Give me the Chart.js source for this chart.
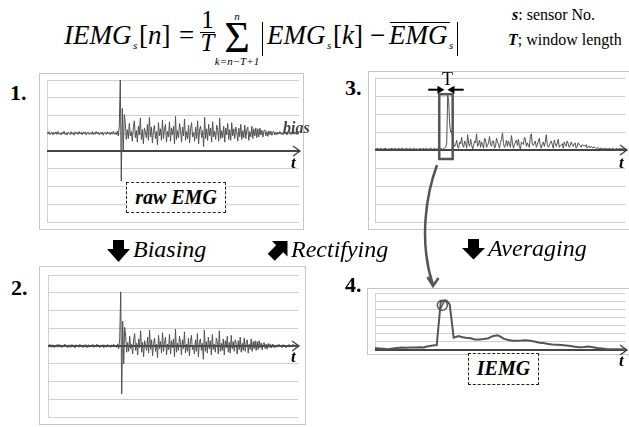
<!DOCTYPE html>
<html><head><meta charset="utf-8">
<script src="https://cdn.jsdelivr.net/npm/chart.js@4.4.1/dist/chart.umd.min.js"></script>
<style>
html,body{margin:0;padding:0;background:#fff}
body{width:629px;height:427px;overflow:hidden;position:relative;font-family:"Liberation Serif","Times New Roman",Tinos,Times,serif;color:#000}
.frame{position:absolute;border:1px solid #c6c6c6;box-sizing:border-box}
.cw{position:absolute}
.txt{position:absolute;line-height:1;white-space:nowrap}
.it{font-style:italic}
.num{font-weight:bold;font-size:22px}
.tl{font-weight:bold;font-style:italic;font-size:17px}
.lbl{position:absolute;border:1.5px dashed #222;background:#fff;font-weight:bold;font-style:italic;font-size:20px;text-align:center;box-sizing:border-box;z-index:3}
.step{font-style:italic;font-size:24px}
.c{text-align:center}
.hl{position:absolute;height:0;border-top:1.3px solid #000}
.vl{position:absolute;width:0;height:34px;border-left:1.5px solid #000}
svg{position:absolute;left:0;top:0;z-index:4}
</style></head><body>

<!-- formula -->
<div class="txt it" style="left:64px;top:22.4px;font-size:27px">IEMG</div>
<div class="txt it" style="left:133px;top:40px;font-size:11px">s</div>
<div class="txt" style="left:139px;top:22.4px;font-size:27px">[<i>n</i>]</div>
<div class="txt" style="left:179px;top:22.4px;font-size:27px">=</div>
<div class="txt c" style="left:197px;top:7.1px;width:21px;font-size:25px">1</div>
<div class="hl" style="left:200px;top:31.5px;width:15px"></div>
<div class="txt c it" style="left:197px;top:30.1px;width:21px;font-size:25px">T</div>
<div class="txt c it" style="left:227px;top:10.8px;width:20px;font-size:11px">n</div>
<div class="txt c" style="left:215px;top:16.2px;width:44px;font-size:44px">Σ</div>
<div class="txt c it" style="left:207px;top:55.8px;width:60px;font-size:11px">k=n−T+1</div>
<div class="vl" style="left:262px;top:22px"></div>
<div class="txt it" style="left:267px;top:22.4px;font-size:27px">EMG</div>
<div class="txt it" style="left:327px;top:40px;font-size:11px">s</div>
<div class="txt" style="left:333px;top:22.4px;font-size:27px">[<i>k</i>]</div>
<div class="txt" style="left:370px;top:22.4px;font-size:27px">−</div>
<div class="txt it" style="left:389px;top:22.4px;font-size:27px">EMG</div>
<div class="hl" style="left:390px;top:22px;width:60px"></div>
<div class="txt it" style="left:449px;top:40px;font-size:11px">s</div>
<div class="vl" style="left:457px;top:22px"></div>

<div class="txt" style="left:512px;top:6.6px;font-size:16px"><b><i>s</i></b>: sensor No.</div>
<div class="txt" style="left:508px;top:31.6px;font-size:16px"><b><i>T</i></b>; window length</div>

<div class="frame" style="left:39px;top:73px;width:265px;height:157px"></div>
<div class="frame" style="left:39px;top:266px;width:267px;height:159px"></div>
<div class="frame" style="left:368px;top:71px;width:270px;height:159px"></div>
<div class="frame" style="left:367px;top:288px;width:270px;height:67px"></div>

<div class="cw" style="left:39px;top:73px"><canvas id="c1" width="265" height="157"></canvas></div>
<div class="cw" style="left:39px;top:266px"><canvas id="c2" width="267" height="159"></canvas></div>
<div class="cw" style="left:368px;top:71px"><canvas id="c3" width="261" height="159"></canvas></div>
<div class="cw" style="left:367px;top:288px"><canvas id="c4" width="262" height="67"></canvas></div>

<div class="txt num" style="left:10px;top:82px">1.</div>
<div class="txt num" style="left:11px;top:277px">2.</div>
<div class="txt num" style="left:345px;top:77px">3.</div>
<div class="txt num" style="left:345px;top:274px">4.</div>

<div class="txt tl" style="left:291px;top:154px">t</div>
<div class="txt tl" style="left:291px;top:348px">t</div>
<div class="txt tl" style="left:619px;top:154px">t</div>
<div class="txt tl" style="left:619px;top:352px">t</div>
<div class="txt" style="left:283px;top:120px;font-size:16px;font-weight:bold;font-style:italic;color:#444;z-index:3">bias</div>
<div class="txt" style="left:442px;top:70px;font-size:18px">T</div>

<div class="lbl" style="left:126px;top:182px;width:100px;height:31px;line-height:28px">raw EMG</div>
<div class="lbl" style="left:468px;top:353px;width:71px;height:32px;line-height:29px">IEMG</div>

<div class="txt step" style="left:133px;top:237px">Biasing</div>
<div class="txt step" style="left:291px;top:237px">Rectifying</div>
<div class="txt step" style="left:488px;top:236px">Averaging</div>

<svg width="629" height="427" viewBox="0 0 629 427">
  <path d="M437,165 C427,192 418,240 433,285" fill="none" stroke="#555" stroke-width="2.5"/>
  <polyline points="427.5,277 433,286 438.5,278" fill="none" stroke="#555" stroke-width="2.5" stroke-linejoin="miter"/>
  <polygon points="113,240 124,240 124,249 130,249 118.5,262 107,249 113,249" fill="#000"/>
  <polygon points="468,239 479,239 479,248 485,248 473.5,259.5 462,248 468,248" fill="#000"/>
  <polygon transform="translate(279,249.5) rotate(-45)" points="-11,-5 1,-5 1,-11 12,0 1,11 1,5 -11,5" fill="#000"/>
</svg>

<script>
// ---------- data ----------
// biased (zero-mean) EMG, one value per sample, in grid units
const emgBiased = [
 // quiet
 0.06,-0.04,0.09,-0.08,0.03,0.07,-0.1,0.05,-0.03,0.08,-0.07,0.1,-0.05,0.02,-0.09,0.06,
 -0.04,0.11,-0.06,0.03,-0.1,0.07,0.02,-0.08,0.09,-0.05,0.04,-0.11,0.08,-0.03,0.06,-0.07,
 0.1,-0.04,0.05,-0.09,0.07,-0.02,0.08,-0.1,0.04,0.06,-0.07,0.03,-0.05,0.09,-0.08,0.05,
 -0.06,0.1,-0.03,0.07,-0.09,0.04,-0.05,0.08,-0.11,0.06,0.03,-0.07,0.09,-0.04,0.05,-0.08,
 0.07,-0.05,0.1,-0.06,0.04,-0.09,0.12,-0.15,
 // onset spike
 0.4,3.05,-2.7,1.4,-1.0,1.05,0.55,-0.35,
 // burst
 0.2,-0.3,0.55,-0.15,0.1,-0.45,0.35,0.7,-0.25,0.15,-0.5,0.4,-0.1,0.85,-0.35,0.2,
 -0.6,0.3,0.05,-0.25,0.5,-0.4,0.9,-0.2,0.35,-0.55,0.15,0.45,-0.3,0.1,-0.65,0.6,
 -0.15,0.25,-0.4,0.75,-0.3,0.2,0.5,-0.5,0.1,-0.2,0.65,-0.45,0.3,-0.1,0.4,-0.6,
 0.95,-0.35,0.15,-0.25,0.55,0.2,-0.5,0.35,-0.15,0.8,-0.4,0.1,-0.3,0.45,-0.55,0.25,
 0.6,-0.2,0.05,-0.45,0.35,-0.3,0.7,-0.6,0.2,0.4,-0.25,0.15,-0.75,0.9,-0.3,0.25,
 -0.4,0.5,-0.15,0.3,-0.5,0.65,-0.2,0.1,-0.35,0.45,0.2,-0.45,0.85,-0.3,0.15,-0.25,
 0.4,-0.5,0.3,-0.1,0.55,-0.35,0.2,-0.4,0.6,-0.15,0.25,-0.3,0.35,0.1,-0.45,0.3,
 -0.2,0.5,-0.35,0.15,-0.25,0.45,-0.3,0.2,0.35,-0.4,0.1,-0.2,0.4,-0.3,0.25,-0.15,
 0.3,-0.25,
 // decay
 0.25,-0.2,0.3,-0.1,0.18,-0.22,0.12,0.2,-0.15,0.1,-0.18,0.14,-0.08,0.12,-0.12,0.08,0.1,-0.1,0.06,-0.08,
 // quiet
 0.07,-0.05,0.1,-0.06,0.04,-0.09,0.08,-0.04,0.06,-0.1,0.05,-0.03,0.09,-0.07,0.04,-0.06,
 0.1,-0.05,0.07,-0.08,0.05,-0.06
];
const biasLevel = 1.0;               // bias of the raw signal
// IEMG (moving window average) as read from panel 4
const iemgTime  = [0,4,9,13,18,22,27,31,36,40,45,49,52,55,58,62,66,69,72,75,79,84,87,91,96,100,105,109,114,118,123,126,129,133,138,142,147,151,156,160,165,169,174,178,183,187,192,196,201,205,210,214,219,223,228,232,237,241,246,251];
const iemgValue = [0.25,0.2,0.15,0.1,0.2,0.25,0.3,0.27,0.3,0.3,0.33,0.3,0.43,0.5,0.55,0.6,5.9,6.05,6.05,5.6,1.5,1.7,1.6,1.5,1.45,1.3,1.3,1.35,1.45,1.7,1.8,1.65,1.4,1.25,1.15,1.15,1.17,1.2,1.13,1.05,0.9,0.85,0.75,0.68,0.65,0.6,0.55,0.48,0.4,0.35,0.38,0.43,0.35,0.25,0.18,0.12,0.1,0.08,0.08,0.08];
// window T shown in panel 3 and the marked IEMG point in panel 4
const windowStart = 64.5, windowEnd = 78, windowTop = 3.1, windowBottom = -0.5;
const markTime = 67.6, markValue = 5.5;

// ---------- derived series ----------
const rawEmg = emgBiased.map(v => v + biasLevel);
const rectified = emgBiased.map(v => Math.abs(v));
const pts = arr => arr.map((v, i) => ({x: i, y: v}));
const iemgPts = iemgTime.map((t, i) => ({x: t, y: iemgValue[i]}));

const GRID = '#d0d0d0';
const LINE = '#505050';

function opts(ymin, ymax, pad, tmax) {
  return {
    responsive: false, animation: false, devicePixelRatio: 1,
    layout: {padding: pad},
    plugins: {legend: {display: false}, tooltip: {enabled: false}},
    elements: {point: {radius: 0}, line: {tension: 0}},
    scales: {
      x: {type: 'linear', min: 0, max: tmax, display: false},
      y: {
        min: ymin, max: ymax,
        ticks: {display: false, stepSize: 1},
        grid: {drawTicks: false, lineWidth: 1, color: c => (c.tick && c.tick.value === 0) ? 'rgba(0,0,0,0)' : GRID},
        border: {display: true, color: GRID, width: 1},
        afterFit: s => { s.width = 0; }
      }
    }
  };
}

const axisArrow = (ext) => ({
  id: 'axisArrow',
  beforeDatasetsDraw(chart) {
    const {ctx, chartArea: a, scales: {y}} = chart;
    const py = y.getPixelForValue(0);
    const tip = a.right + ext;
    ctx.save();
    ctx.strokeStyle = '#454545';
    ctx.lineWidth = 2;
    ctx.beginPath(); ctx.moveTo(a.left, py); ctx.lineTo(tip, py); ctx.stroke();
    ctx.lineWidth = 1.4;
    ctx.beginPath(); ctx.moveTo(tip - 7, py - 5); ctx.lineTo(tip, py); ctx.lineTo(tip - 7, py + 5); ctx.stroke();
    ctx.restore();
  }
});

function arrowTo(ctx, x0, y0, x1, y1) {
  const dir = Math.sign(x1 - x0);
  ctx.beginPath(); ctx.moveTo(x0, y0); ctx.lineTo(x1 - dir * 5, y1); ctx.stroke();
  ctx.beginPath(); ctx.moveTo(x1, y1); ctx.lineTo(x1 - dir * 7, y1 - 4); ctx.lineTo(x1 - dir * 7, y1 + 4); ctx.closePath(); ctx.fill();
}

const windowBox = {
  id: 'windowBox',
  afterDatasetsDraw(chart) {
    const {ctx, scales: {x, y}} = chart;
    const x0 = x.getPixelForValue(windowStart), x1 = x.getPixelForValue(windowEnd);
    const y0 = y.getPixelForValue(windowTop), y1 = y.getPixelForValue(windowBottom);
    ctx.save();
    ctx.strokeStyle = '#555'; ctx.lineWidth = 2.5;
    ctx.strokeRect(x0, y0, x1 - x0, y1 - y0);
    const ay = y0 - 4.5, cx = (x0 + x1) / 2;
    ctx.strokeStyle = '#000'; ctx.fillStyle = '#000'; ctx.lineWidth = 2;
    arrowTo(ctx, x0 - 11, ay, cx - 1.5, ay);
    arrowTo(ctx, x1 + 11, ay, cx + 1.5, ay);
    ctx.restore();
  }
};

const peakMark = {
  id: 'peakMark',
  afterDatasetsDraw(chart) {
    const {ctx, scales: {x, y}} = chart;
    const cx = x.getPixelForValue(markTime), cy = y.getPixelForValue(markValue);
    ctx.save();
    ctx.strokeStyle = '#555'; ctx.lineWidth = 1.5;
    ctx.beginPath(); ctx.arc(cx, cy, 5, 0, Math.PI * 2); ctx.stroke();
    ctx.beginPath(); ctx.moveTo(cx - 3, cy + 6); ctx.lineTo(cx + 3, cy - 6); ctx.stroke();
    ctx.restore();
  }
};

const N = emgBiased.length - 1;
new Chart(document.getElementById('c1'), {
  type: 'line',
  data: {datasets: [{data: pts(rawEmg), borderColor: LINE, borderWidth: 1}]},
  options: opts(-4, 4, {left: 8, top: 7, right: 5, bottom: 8}, N),
  plugins: [axisArrow(1)]
});
new Chart(document.getElementById('c2'), {
  type: 'line',
  data: {datasets: [{data: pts(emgBiased), borderColor: LINE, borderWidth: 1}]},
  options: opts(-4, 4, {left: 9, top: 9, right: 8, bottom: 8}, N),
  plugins: [axisArrow(1)]
});
new Chart(document.getElementById('c3'), {
  type: 'line',
  data: {datasets: [{data: pts(rectified), borderColor: LINE, borderWidth: 1}]},
  options: opts(-4, 4, {left: 7, top: 7, right: 4, bottom: 8}, N),
  plugins: [axisArrow(2), windowBox]
});
new Chart(document.getElementById('c4'), {
  type: 'line',
  data: {datasets: [{data: iemgPts, borderColor: '#555', borderWidth: 2}]},
  options: opts(0, 7, {left: 8, top: 5, right: 4, bottom: 5}, N),
  plugins: [axisArrow(2), peakMark]
});
</script>
</body></html>
